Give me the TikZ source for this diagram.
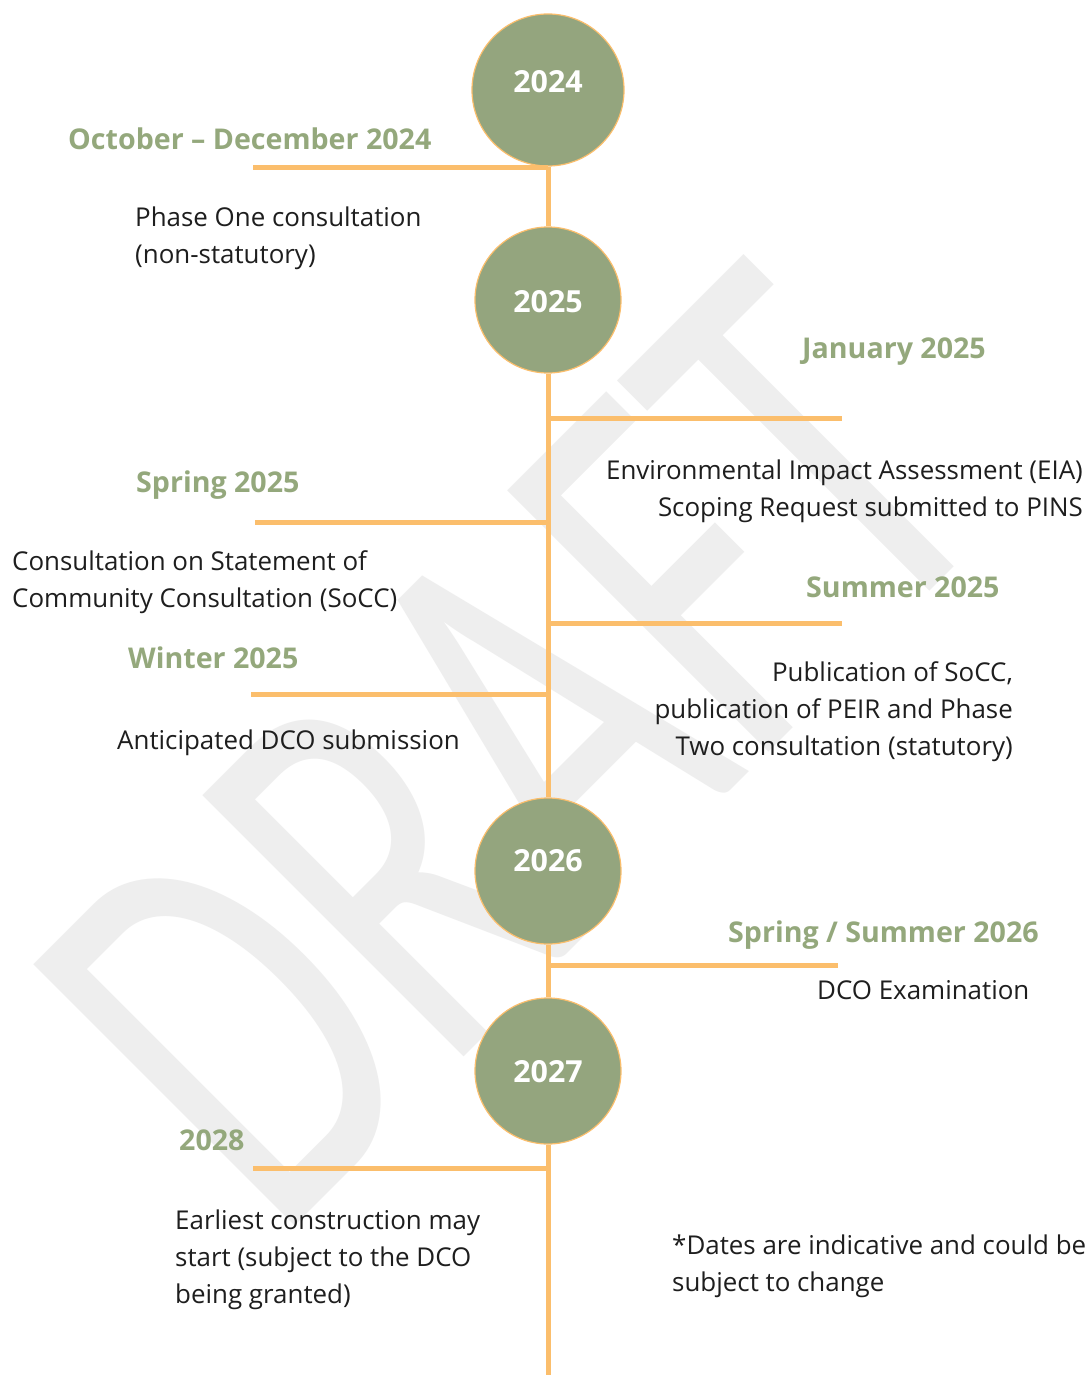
\documentclass[tikz,border=0pt]{standalone}
\usepackage{fontspec}
\setmainfont{Open Sans}
\newfontfamily\wmfont{Carlito}
\usepackage{graphicx}
\definecolor{circ}{HTML}{94A57E}
\definecolor{headc}{HTML}{94A87C}
\definecolor{lineor}{HTML}{FBBE6C}
\definecolor{wmc}{HTML}{EEEEEE}
\definecolor{txt}{HTML}{1E1E1E}
\newcommand\yrtext[2]{\raisebox{#1}[0pt][0pt]{#2}}
\tikzset{
  yearc/.style={circle, fill=circ, draw=lineor, line width=1.2bp, inner sep=0pt,
    text=white, font=\bfseries\fontsize{30.5}{34}\selectfont},
  headt/.style={text=headc, inner sep=0pt, anchor=base west, font=\bfseries\fontsize{28.7}{34}\selectfont},
  bodyt/.style={text=txt, inner sep=0pt, font=\fontsize{26}{37}\selectfont},
  tl/.style={draw=lineor, line width=5bp},
  wmark/.style={text=wmc, inner sep=0pt, rotate=45, font=\wmfont\fontsize{578}{600}\selectfont}
}
\begin{document}
\begin{tikzpicture}[x=1bp,y=-1bp]
\useasboundingbox (0,0) rectangle (1088,1375);
\fill[white] (0,0) rectangle (1088,1375);
% watermark
\node[wmark] (wm) at (512,748) {\scalebox{0.67}[1]{DRAFT}};

% timeline nodes
\node[yearc, minimum size=152bp] (c2024) at (548,90) {\yrtext{-3bp}{2024}};
\node[yearc, minimum size=146bp] (c2025) at (548,300) {\yrtext{-12bp}{2025}};
\node[yearc, minimum size=146bp] (c2026) at (548,871) {\yrtext{0bp}{2026}};
\node[yearc, minimum size=146bp] (c2027) at (548,1071) {\yrtext{-11bp}{2027}};
\coordinate (bot) at (548,1378);

\draw[tl] (c2024.south) -- (c2025.north);
\draw[tl] (c2025.south) -- (c2026.north);
\draw[tl] (c2026.south) -- (c2027.north);
\draw[tl] (c2027.south) -- (bot);

% branch points
\coordinate (j1) at (548,168);  \coordinate (e1) at (253,168);
\coordinate (j2) at (548,418);  \coordinate (e2) at (842,418);
\coordinate (j3) at (548,522);  \coordinate (e3) at (255,522);
\coordinate (j4) at (548,623);  \coordinate (e4) at (842,623);
\coordinate (j5) at (548,694);  \coordinate (e5) at (251,694);
\coordinate (j6) at (548,965);  \coordinate (e6) at (838,965);
\coordinate (j7) at (548,1168); \coordinate (e7) at (253,1168);
\draw[tl] (j1) -- (e1);
\draw[tl] (j2) -- (e2);
\draw[tl] (j3) -- (e3);
\draw[tl] (j4) -- (e4);
\draw[tl] (j5) -- (e5);
\draw[tl] (j6) -- (e6);
\draw[tl] (j7) -- (e7);

% headings
\node[headt] (h1) at (68,150) {October -- December 2024};
\node[headt] (h2) at (802,358) {January 2025};
\node[headt] (h3) at (136,492) {Spring 2025};
\node[headt] (h4) at (806,597) {Summer 2025};
\node[headt] (h5) at (128,668) {Winter 2025};
\node[headt] (h6) at (728,942) {Spring / Summer 2026};
\node[headt] (h7) at (179,1150) {2028};

% body texts
\node[bodyt, anchor=north west, align=left] (t1) at (135,206.5) {Phase One consultation\\(non-statutory)};
\node[bodyt, anchor=north east, align=right] (t2) at (1083,459.5) {Environmental Impact Assessment (EIA)\\Scoping Request submitted to PINS};
\node[bodyt, anchor=north west, align=left] (t3) at (12,550.5) {Consultation on Statement of\\Community Consultation (SoCC)};
\node[bodyt, anchor=north east, align=right] (t4) at (1013,661.5) {Publication of SoCC,\\publication of PEIR and Phase\\Two consultation (statutory)};
\node[bodyt, anchor=base west] (t5) at (117,749) {Anticipated DCO submission};
\node[bodyt, anchor=base west] (t6) at (817,999) {DCO Examination};
\node[bodyt, anchor=north west, align=left] (t7) at (175,1209.5) {Earliest construction may\\start (subject to the DCO\\being granted)};
\node[bodyt, anchor=north west, align=left] (t8) at (672,1234.5) {*Dates are indicative and could be\\subject to change};
\end{tikzpicture}
\end{document}
